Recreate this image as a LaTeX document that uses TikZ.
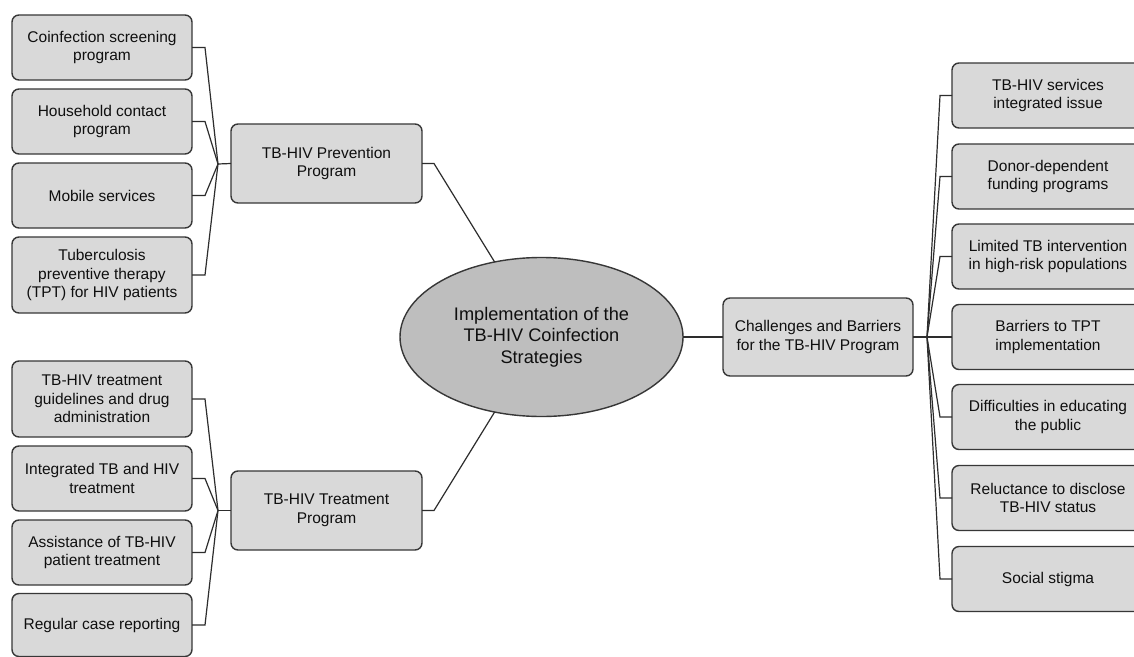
\documentclass[tikz,border=0pt]{standalone}
\usepackage{fontspec}
\setmainfont{Liberation Sans}
\usetikzlibrary{shapes.geometric}
\definecolor{boxfill}{RGB}{217,217,217}
\definecolor{ellfill}{RGB}{190,190,190}
\definecolor{bordercol}{RGB}{55,55,55}
\definecolor{linecol}{RGB}{45,45,45}
\definecolor{textcol}{RGB}{15,15,15}
\tikzset{
  leafbox/.style={draw=bordercol, fill=boxfill, rounded corners=7pt, line width=1.4pt,
    minimum width=180pt, minimum height=65pt, inner sep=0pt, outer sep=0pt, align=center,
    text=textcol, font=\fontsize{15.5}{18.6}\selectfont},
  midbox/.style={leafbox, minimum width=191pt, minimum height=79pt},
  rightbox/.style={leafbox, minimum width=192pt},
  mainell/.style={ellipse, draw=bordercol, fill=ellfill, line width=1.4pt,
    minimum width=283pt, minimum height=159pt, inner sep=0pt, outer sep=0pt, align=center,
    text=textcol, font=\fontsize{18.2}{21.7}\selectfont},
  conn/.style={draw=linecol, line width=1.2pt}
}
\begin{document}
\begin{tikzpicture}[x=1pt,y=-1pt]
\useasboundingbox (0,0) rectangle (1134,656);
\clip (0,0) rectangle (1134,656);
\fill[white] (0,0) rectangle (1134,656);

% central
\node[mainell] (main) at (541.5,337) {Implementation of the\\TB-HIV Coinfection\\Strategies};

% middle level
\node[midbox] (prev) at (326.5,163.5) {TB-HIV Prevention\\Program};
\node[midbox] (treat) at (326.5,510.5) {TB-HIV Treatment\\Program};
\node[midbox, minimum width=190pt, minimum height=78pt] (chal) at (818,337) {Challenges and Barriers\\for the TB-HIV Program};

% left prevention leaves
\node[leafbox] (p1) at (102,47.5) {Coinfection screening\\program};
\node[leafbox] (p2) at (102,121.5) {Household contact\\program};
\node[leafbox] (p3) at (102,195.5) {Mobile services};
\node[leafbox, minimum height=76pt] (p4) at (102,275) {Tuberculosis\\preventive therapy\\(TPT) for HIV patients};

% left treatment leaves
\node[leafbox, minimum height=76pt] (t1) at (102,399) {TB-HIV treatment\\guidelines and drug\\administration};
\node[leafbox] (t2) at (102,478.5) {Integrated TB and HIV\\treatment};
\node[leafbox] (t3) at (102,552.5) {Assistance of TB-HIV\\patient treatment};
\node[leafbox, minimum height=63pt] (t4) at (102,625) {Regular case reporting};

% right leaves
\node[rightbox] (r1) at (1048,95.5) {TB-HIV services\\integrated issue};
\node[rightbox] (r2) at (1048,176.5) {Donor-dependent\\funding programs};
\node[rightbox] (r3) at (1048,256.5) {Limited TB intervention\\in high-risk populations};
\node[rightbox] (r4) at (1048,337) {Barriers to TPT\\implementation};
\node[rightbox] (r5) at (1048,417) {Difficulties in educating\\the public};
\node[rightbox] (r6) at (1048,498) {Reluctance to disclose\\TB-HIV status};
\node[rightbox] (r7) at (1048,579) {Social stigma};

% junctions
\coordinate (jp) at (218,164);
\coordinate (jt) at (218,510.5);
\coordinate (jr) at (927,337);

% connectors: prevention
\draw[conn] (jp) -- (prev.west);
\foreach \n in {p1,p2,p3,p4} \draw[conn] (\n.east) -- ++(13,0) -- (jp);
% connectors: treatment
\draw[conn] (jt) -- (treat.west);
\foreach \n in {t1,t2,t3,t4} \draw[conn] (\n.east) -- ++(13,0) -- (jt);
% connectors: challenges
\draw[conn] (chal.east) -- (jr);
\foreach \n in {r1,r2,r3,r4,r5,r6,r7} \draw[conn] (\n.west) -- ++(-12,0) -- (jr);

% to central ellipse
\draw[conn] (prev.east) -- ++(12,0) -- (main.122);
\draw[conn] (treat.east) -- ++(12,0) -- (main.238);
\draw[conn] (main.east) -- (chal.west);
\end{tikzpicture}
\end{document}
